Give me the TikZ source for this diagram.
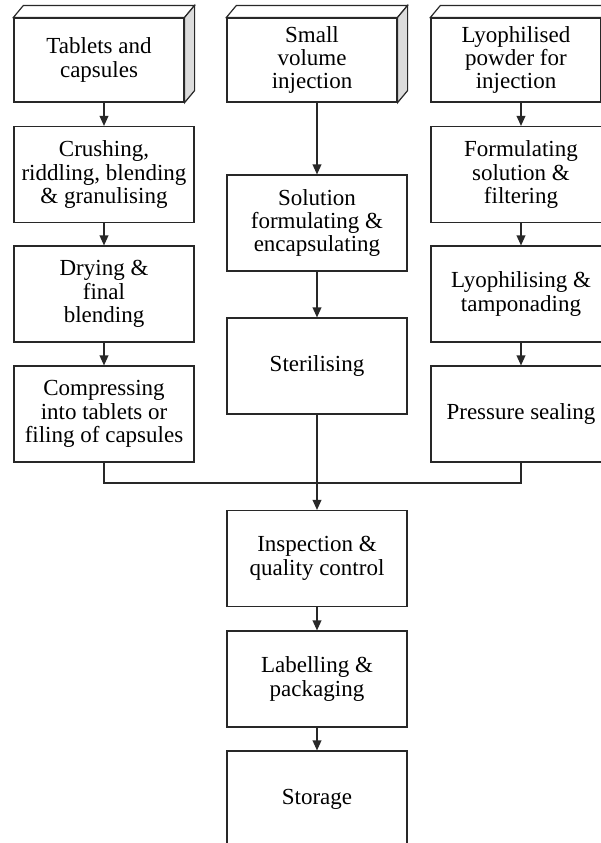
\documentclass[tikz,border=0pt]{standalone}
\usepackage{fontspec}
\setmainfont{Liberation Serif}
\usetikzlibrary{arrows.meta,calc}

\definecolor{ink}{RGB}{40,40,40}
\definecolor{sideface}{RGB}{220,220,220}

\tikzset{
  stage/.style={draw=ink, line width=0.6pt, fill=white, rectangle, inner sep=0pt,
    minimum width=90pt, minimum height=48pt, align=center,
    font=\fontsize{11.5}{11.7}\selectfont},
  front/.style={stage, minimum width=85pt, minimum height=42pt},
  flow/.style={draw=ink, line width=0.6pt, -{Triangle[length=5pt,width=4.4pt]}},
  link/.style={draw=ink, line width=0.6pt},
  face/.style={draw=ink, line width=0.6pt, line join=miter},
}

% a raised block: front face plus top and side faces
\newcommand{\raisedblock}[1]{%
  \path[face, fill=white] (#1.north west) -- ++(10,-12) -- ($(#1.north east)+(10,-12)$) -- (#1.north east) -- cycle;
  \path[face, fill=sideface] (#1.north east) -- ++(10,-12) -- ($(#1.south east)+(10,-12)$) -- (#1.south east) -- cycle;
}

\begin{document}
\begin{tikzpicture}[x=0.5pt, y=-0.5pt]
  \useasboundingbox (0,0) rectangle (601,843);
  \clip (0,0) rectangle (601,843);

  % starting products
  \node[front] (t1) at (99,60)  {Tablets and\\capsules};
  \node[front] (t2) at (312,60) {Small\\volume\\injection};
  \node[front] (t3) at (516,60) {Lyophilised\\powder for\\injection};
  \raisedblock{t1}
  \raisedblock{t2}
  \raisedblock{t3}

  % tablets and capsules
  \node[stage] (a1) at (104,174.5) {Crushing,\\riddling, blending\\\& granulising};
  \node[stage] (a2) at (104,294)   {Drying \&\\final\\blending};
  \node[stage] (a3) at (104,414)   {Compressing\\into tablets or\\filing of capsules};

  % small volume injection
  \node[stage] (b1) at (317,223) {Solution\\formulating \&\\encapsulating};
  \node[stage] (b2) at (317,366) {Sterilising};

  % lyophilised powder
  \node[stage] (c1) at (521,174.5) {Formulating\\solution \&\\filtering};
  \node[stage] (c2) at (521,294)   {Lyophilising \&\\tamponading};
  \node[stage] (c3) at (521,414)   {Pressure sealing};

  % common stages
  \node[stage] (d1) at (317,558.5) {Inspection \&\\quality control};
  \node[stage] (d2) at (317,679)   {Labelling \&\\packaging};
  \node[stage] (d3) at (317,799)   {Storage};

  \coordinate (j) at (317,483);

  % connectors
  \draw[flow] (t1.south -| a1.north) -- (a1.north);
  \draw[flow] (a1) -- (a2);
  \draw[flow] (a2) -- (a3);

  \draw[flow] (t2.south -| b1.north) -- (b1.north);
  \draw[flow] (b1) -- (b2);

  \draw[flow] (t3.south -| c1.north) -- (c1.north);
  \draw[flow] (c1) -- (c2);
  \draw[flow] (c2) -- (c3);

  \draw[link] (a3.south) -- (a3.south |- j) -- (c3.south |- j) -- (c3.south);
  \draw[flow] (b2) -- (d1);
  \draw[flow] (d1) -- (d2);
  \draw[flow] (d2) -- (d3);
\end{tikzpicture}
\end{document}
